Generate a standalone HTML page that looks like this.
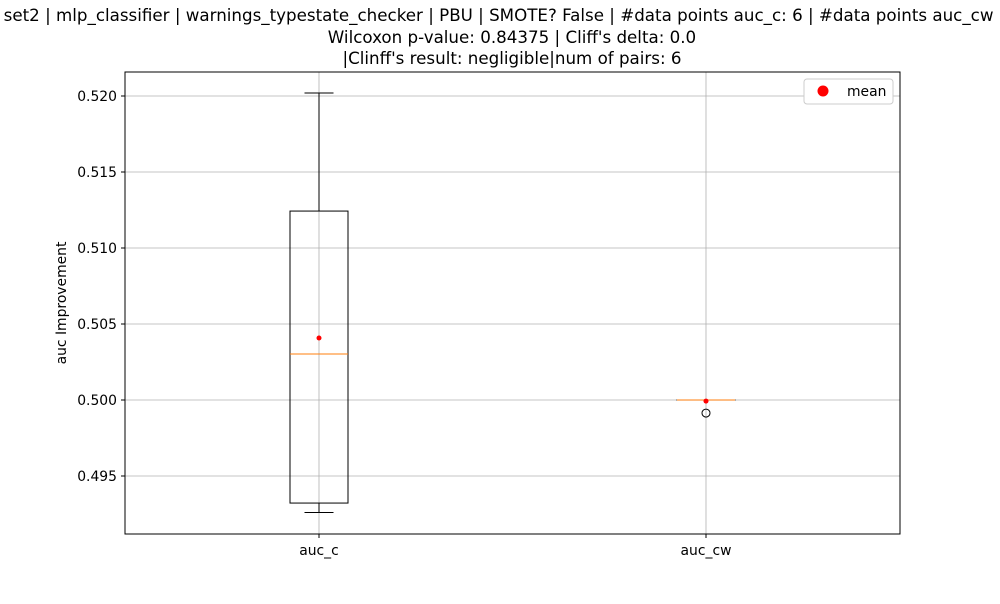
<!DOCTYPE html>
<html><head><meta charset="utf-8"><style>
body{margin:0;background:#fff;width:1000px;height:600px;overflow:hidden;font-family:"DejaVu Sans",sans-serif}
</style></head><body>
<svg id="chart" width="1000" height="600" xmlns="http://www.w3.org/2000/svg" font-family="DejaVu Sans, sans-serif">
<g font-size="16.7" text-anchor="middle" fill="#000">
<text x="512" y="21">set2 | mlp_classifier | warnings_typestate_checker | PBU | SMOTE? False | #data points auc_c: 6 | #data points auc_cw : 6</text>
<text x="512" y="43">Wilcoxon p-value: 0.84375 | Cliff's delta: 0.0</text>
<text x="512" y="64">|Clinff's result: negligible|num of pairs: 6</text>
</g>
<g id="grid"></g>
<g id="marks"></g>
<rect x="125" y="72" width="775" height="462" fill="none" stroke="#000" stroke-width="1"/>
<g id="axes" font-size="13.9" fill="#000"></g>
<text x="66" y="303" font-size="13.9" text-anchor="middle" transform="rotate(-90 66 303)">auc Improvement</text>
<g>
<rect x="804" y="79" width="89" height="25" rx="3" fill="#fff" stroke="#ccc"/>
<circle cx="823" cy="91" r="5.5" fill="red"/>
<text x="847" y="96" font-size="13.9">mean</text>
</g>
</svg>
<script>
const categories=["auc_c","auc_cw"];
const whiskerLow=[0.4926,0.5];
const q1=[0.49322,0.5];
const medians=[0.50303,0.5];
const q3=[0.51243,0.5];
const whiskerHigh=[0.5202,0.5];
const means=[0.50408,0.49993];
const outliers=[[],[0.49914]];
const yTicks=[0.495,0.500,0.505,0.510,0.515,0.520];
const yTickLabels=["0.495","0.500","0.505","0.510","0.515","0.520"];
const NS="http://www.w3.org/2000/svg";
const L=125,R=900,T=72,B=534;
function y(v){return 96+(0.520-v)/0.005*76;}
function x(i){return 319+i*387;}
function mk(tag,attrs,parent){const e=document.createElementNS(NS,tag);for(const k in attrs)e.setAttribute(k,attrs[k]);parent.appendChild(e);return e;}
const grid=document.getElementById('grid'),marks=document.getElementById('marks'),axes=document.getElementById('axes');
yTicks.forEach((t,i)=>{
 const g=mk('line',{x1:L,x2:R,y1:y(t),y2:y(t),stroke:'#b0b0b0','stroke-width':0.8},grid);
 
 
 mk('line',{x1:L-4,x2:L,y1:y(t),y2:y(t),stroke:'#000'},axes);
 const tx=mk('text',{x:L-8,y:y(t)+5,'text-anchor':'end'},axes);tx.textContent=yTickLabels[i];
 
 
});
categories.forEach((c,i)=>{
 const cx=x(i);
 const gl=mk('line',{x1:cx,x2:cx,y1:T,y2:B,stroke:'#b0b0b0','stroke-width':0.8},grid);
 
 
 mk('line',{x1:cx,x2:cx,y1:B,y2:B+4,stroke:'#000'},axes);
 const tx=mk('text',{x:cx,y:B+21,'text-anchor':'middle'},axes);tx.textContent=c;
 
 
 const g=mk('g',{},marks);
 
 
 mk('line',{x1:cx,x2:cx,y1:y(q3[i]),y2:y(whiskerHigh[i]),stroke:'#000'},g);
 mk('line',{x1:cx,x2:cx,y1:y(q1[i]),y2:y(whiskerLow[i]),stroke:'#000'},g);
 mk('line',{x1:cx-14.5,x2:cx+14.5,y1:y(whiskerHigh[i]),y2:y(whiskerHigh[i]),stroke:'#000'},g);
 mk('line',{x1:cx-14.5,x2:cx+14.5,y1:y(whiskerLow[i]),y2:y(whiskerLow[i]),stroke:'#000'},g);
 mk('rect',{x:cx-29,y:y(q3[i]),width:58,height:Math.max(0.01,y(q1[i])-y(q3[i])),fill:'none',stroke:'#000'},g);
 mk('line',{x1:cx-29,x2:cx+29,y1:y(medians[i]),y2:y(medians[i]),stroke:'#ff7f0e'},g);
 outliers[i].forEach(o=>{const oc=mk('circle',{cx:cx,cy:y(o),r:4,fill:'none',stroke:'#000'},g);
  
  });
 const m=mk('circle',{cx:cx,cy:y(means[i]),r:2.5,fill:'red'},g);
 
 
});
</script>
</body></html>
